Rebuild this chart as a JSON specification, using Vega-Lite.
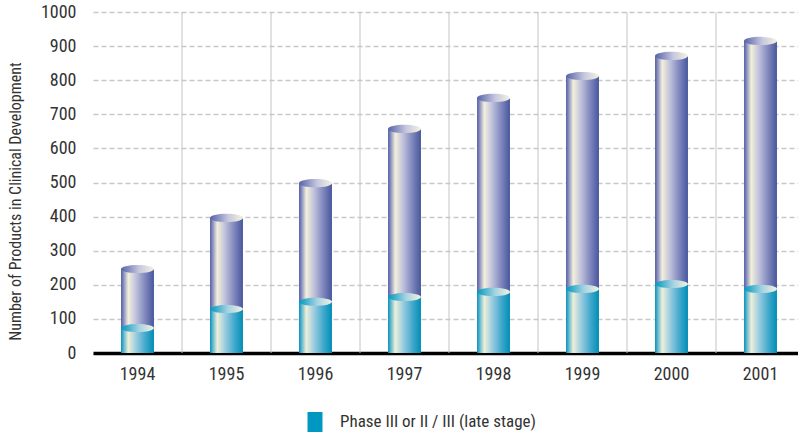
{
  "$schema": "https://vega.github.io/schema/vega-lite/v6.json",
  "width": 705,
  "height": 341,
  "autosize": {"type": "none"},
  "padding": {"left": 93, "top": 12, "right": 0, "bottom": 82},
  "background": "white",
  "config": {
    "view": {"stroke": null},
    "font": "Roboto Condensed, DejaVu Sans Condensed, sans-serif",
    "axisY": {
      "tickCount": 12,
      "labelOverlap": false,
      "format": "d",
      "titleFontSize": 16,
      "titleFontWeight": "normal",
      "titleColor": "#333333",
      "titleAngle": -90,
      "titleX": -78,
      "titleY": 189,
      "titleAlign": "center",
      "titleBaseline": "middle",
      "labelFontSize": 18,
      "labelColor": "#333333",
      "labelPadding": 17,
      "ticks": false,
      "domain": false,
      "grid": true,
      "gridColor": "#c8c8c8",
      "gridWidth": 1.5,
      "gridDash": [5, 3]
    }
  },
  "data": {
    "values": [
      {"year": "1994", "total": 246, "late": 73},
      {"year": "1995", "total": 396, "late": 129},
      {"year": "1996", "total": 498, "late": 150},
      {"year": "1997", "total": 657, "late": 164},
      {"year": "1998", "total": 748, "late": 179},
      {"year": "1999", "total": 812, "late": 188},
      {"year": "2000", "total": 871, "late": 202},
      {"year": "2001", "total": 915, "late": 188}
    ]
  },
  "encoding": {
    "x": {
      "field": "year",
      "type": "ordinal",
      "scale": {"range": [0, 712], "paddingInner": 0, "paddingOuter": 0},
      "axis": {
        "title": null,
        "labelAngle": 0,
        "labelFontSize": 18,
        "labelColor": "#333333",
        "labelPadding": 12,
        "ticks": false,
        "grid": false,
        "domainColor": "#000000",
        "domainWidth": 3.5
      }
    }
  },
  "layer": [
    {
      "transform": [{"filter": "datum.year != '1994'"}],
      "mark": {"type": "rule", "color": "#c4c4c4", "strokeWidth": 1},
      "encoding": {
        "x": {"field": "year", "type": "ordinal", "bandPosition": 0}
      }
    },
    {
      "mark": {
        "type": "bar",
        "width": {"band": 0.37},
        "color": {
          "gradient": "linear", "x1": 0, "x2": 1, "y1": 0, "y2": 0,
          "stops": [
            {"offset": 0, "color": "#525ea4"},
            {"offset": 0.08, "color": "#8a8fc0"},
            {"offset": 0.22, "color": "#f3f0da"},
            {"offset": 0.45, "color": "#c0c2dc"},
            {"offset": 0.75, "color": "#7c84bb"},
            {"offset": 1, "color": "#47579c"}
          ]
        }
      },
      "encoding": {
        "y": {
          "field": "total",
          "type": "quantitative",
          "scale": {"domain": [0, 1000], "nice": false},
          "axis": {
            "values": [0, 100, 200, 300, 400, 500, 600, 700, 800, 900, 1000],
            "tickCount": 12,
            "title": "Number of Products in Clinical Development"
          }
        },
        "y2": {"field": "late"}
      }
    },
    {
      "mark": {
        "type": "bar",
        "width": {"band": 0.37},
        "fill": {
          "gradient": "linear", "x1": 0, "x2": 1, "y1": 0, "y2": 0,
          "stops": [
            {"offset": 0, "color": "#008fb8"},
            {"offset": 0.08, "color": "#5fb5cf"},
            {"offset": 0.22, "color": "#eeefd8"},
            {"offset": 0.45, "color": "#9dcde0"},
            {"offset": 0.75, "color": "#3fa8cb"},
            {"offset": 1, "color": "#008db6"}
          ]
        }
      },
      "encoding": {
        "y": {
          "field": "late",
          "type": "quantitative",
          "axis": {
            "values": [0, 100, 200, 300, 400, 500, 600, 700, 800, 900, 1000],
            "tickCount": 12,
            "title": "Number of Products in Clinical Development"
          }
        },
        "color": {
          "datum": "Phase III or II / III (late stage)",
          "scale": {"range": ["#0098c0"]},
          "legend": {
            "title": null,
            "orient": "none",
            "legendX": 212,
            "legendY": 400,
            "symbolType": "M-0.75,-1H0.75V1H-0.75Z",
            "symbolSize": 400,
            "symbolStrokeWidth": 0,
            "labelFontSize": 17,
            "labelColor": "#333333",
            "labelOffset": 15,
            "labelLimit": 400,
            "encode": {
              "symbols": {
                "update": {
                  "opacity": {"value": 1},
                  "stroke": {"value": null},
                  "fill": {
                    "value": {
                      "gradient": "linear", "x1": 0, "x2": 1, "y1": 0, "y2": 0,
                      "stops": [
                        {"offset": 0, "color": "#008fb8"},
                        {"offset": 0.1, "color": "#5fb5cf"},
                        {"offset": 0.28, "color": "#eeefd8"},
                        {"offset": 0.55, "color": "#7fc0d8"},
                        {"offset": 1, "color": "#008db6"}
                      ]
                    }
                  }
                }
              }
            }
          }
        }
      }
    },
    {
      "mark": {
        "type": "point",
        "filled": true,
        "opacity": 1,
        "size": 1089,
        "shape": "M-1,0A1,0.25 0 1,1 1,0A1,0.25 0 1,1 -1,0Z",
        "fill": {
          "gradient": "linear", "x1": 0, "x2": 1, "y1": 0, "y2": 0,
          "stops": [
            {"offset": 0, "color": "#0098c0"},
            {"offset": 0.55, "color": "#a5d3e2"},
            {"offset": 1, "color": "#f2f1e0"}
          ]
        }
      },
      "encoding": {
        "y": {
          "field": "late",
          "type": "quantitative",
          "axis": {
            "values": [0, 100, 200, 300, 400, 500, 600, 700, 800, 900, 1000],
            "tickCount": 12,
            "title": "Number of Products in Clinical Development"
          }
        }
      }
    },
    {
      "mark": {
        "type": "point",
        "filled": true,
        "opacity": 1,
        "size": 1089,
        "shape": "M-1,0A1,0.25 0 1,1 1,0A1,0.25 0 1,1 -1,0Z",
        "fill": {
          "gradient": "linear", "x1": 0, "x2": 1, "y1": 0, "y2": 0,
          "stops": [
            {"offset": 0, "color": "#5662a8"},
            {"offset": 0.55, "color": "#c6c7de"},
            {"offset": 1, "color": "#f4f2e0"}
          ]
        }
      },
      "encoding": {
        "y": {
          "field": "total",
          "type": "quantitative",
          "axis": {
            "values": [0, 100, 200, 300, 400, 500, 600, 700, 800, 900, 1000],
            "tickCount": 12,
            "title": "Number of Products in Clinical Development"
          }
        }
      }
    }
  ]
}
